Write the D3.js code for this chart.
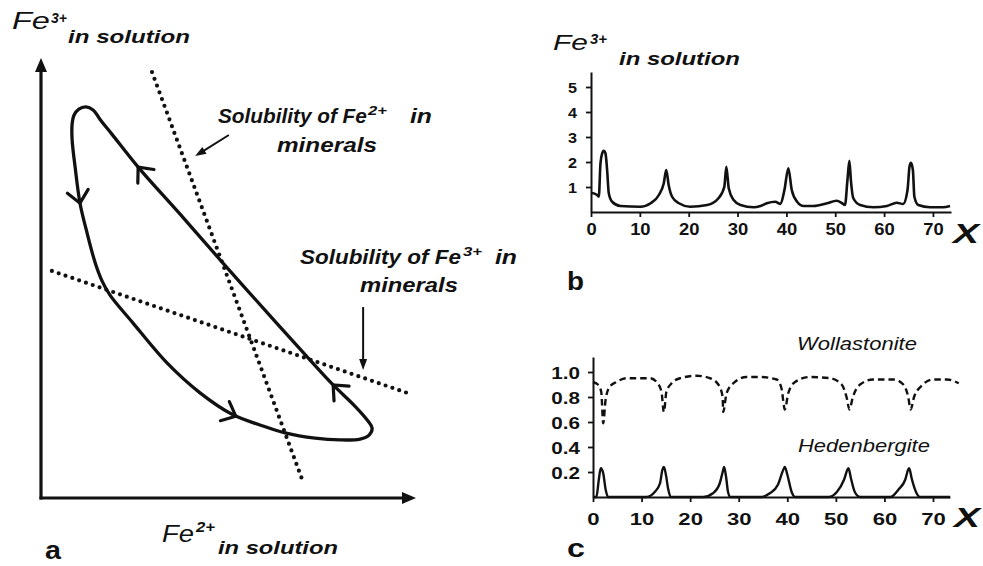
<!DOCTYPE html>
<html>
<head>
<meta charset="utf-8">
<script src="https://cdn.jsdelivr.net/npm/d3@7"></script>
<style>
  body { margin: 0; background: #fff; }
  svg { display: block; }
  text { font-family: "Liberation Sans", Arial, sans-serif; fill: #111; }
</style>
</head>
<body>
<svg id="fig" width="983" height="566"></svg>
<script>
// ---------- panel a: schematic cycle in the Fe2+ / Fe3+ plane (arbitrary units 0-100) ----------
const loopFe2 = [12.0,10.1,8.8,8.3,8.3,9.1,10.4,12.3,14.4,16.3,18.4,24.5,33.6,42.4,51.2,58.4,65.1,73.1,79.7,85.1,87.5,88.3,87.2,83.7,77.9,71.7,61.1,48.3,37.1,25.9,18.9,15.7,13.9];
const loopFe3 = [88.9,88.4,87.0,85.0,81.4,75.2,67.0,60.2,53.6,49.3,46.1,39.8,30.7,23.9,18.9,16.6,14.8,13.6,13.2,13.4,14.3,15.9,17.5,20.9,25.7,31.4,41.4,53.6,64.5,75.2,82.7,86.1,88.2];
// direction arrows sit on the loop near these points
const arrowFe2 = [10.4, 52.0, 77.9, 25.9];
const arrowFe3 = [67.0, 18.6, 25.7, 75.2];
// solubility limits (end points)
const fe2LimitFe2 = [29.6, 69.9], fe2LimitFe3 = [96.8, 3.6];
const fe3LimitFe2 = [2.9, 97.6],  fe3LimitFe3 = [51.6, 23.9];

// ---------- panel b: Fe3+ in solution along the column ----------
const distB = [0,1.26,1.6,1.94,2.3,2.62,2.96,3.3,3.64,4.33,6.0,10.1,12.2,13.9,14.9,15.4,15.9,16.6,18.0,20.3,23.8,26.1,27.3,27.7,28.2,29.2,30.6,33.3,34.7,36.0,37.7,38.8,39.6,40.4,41.1,42.2,43.5,45.6,48.3,50.3,51.4,52.0,52.5,52.9,53.2,53.7,55.1,57.8,60.6,62.6,63.9,64.8,65.2,65.5,65.9,66.2,67.0,69.4,72.1,73.5];
const fe3Conc = [0.77,0.68,0.61,1.95,2.35,2.45,2.35,1.68,0.75,0.41,0.24,0.21,0.35,0.68,1.15,1.68,1.08,0.61,0.35,0.21,0.28,0.55,1.01,1.81,0.95,0.48,0.28,0.19,0.24,0.35,0.41,0.32,0.88,1.75,0.88,0.41,0.24,0.24,0.35,0.45,0.35,0.28,1.28,2.05,1.28,0.55,0.28,0.19,0.24,0.37,0.32,0.88,1.81,1.97,1.68,0.61,0.28,0.19,0.19,0.24];
const ticksBy = [1, 2, 3, 4, 5];
const ticksX = [0, 10, 20, 30, 40, 50, 60, 70];

// ---------- panel c: mineral fractions ----------
const distW = [0,1.0,1.7,2.1,2.6,3.4,4.8,6.9,11.7,13.1,14.1,14.6,15.1,16.2,17.9,21.3,24.1,25.8,26.7,26.8,27.5,28.9,31.6,34.4,37.8,38.8,39.5,40.2,41.6,44.7,48.8,51.2,52.2,52.8,53.5,55.0,57.7,61.9,63.9,64.9,65.4,66.1,67.4,70.1,72.9,75.3];
const wollastonite = [0.92,0.90,0.84,0.59,0.78,0.88,0.92,0.95,0.95,0.92,0.84,0.68,0.84,0.91,0.95,0.97,0.95,0.90,0.80,0.68,0.83,0.91,0.96,0.96,0.94,0.87,0.70,0.83,0.92,0.96,0.95,0.90,0.80,0.70,0.80,0.90,0.94,0.94,0.90,0.80,0.70,0.80,0.88,0.94,0.94,0.91];
const distH = [0,0.7,1.2,1.6,2.1,2.6,3.1,11.0,12.7,13.8,14.3,14.6,15.0,15.5,16.0,22.7,24.7,26.1,26.7,27.0,27.4,27.8,28.3,34.5,36.4,38.1,39.2,39.5,40.0,40.9,41.6,48.5,50.2,51.7,52.4,52.6,53.1,53.9,55.0,61.2,62.9,64.3,64.9,65.1,65.6,66.5,67.3,73.5];
const hedenbergite = [0,0,0.14,0.23,0.19,0.06,0,0,0.04,0.11,0.22,0.24,0.18,0.06,0,0,0.03,0.11,0.20,0.24,0.16,0.04,0,0,0.03,0.10,0.22,0.24,0.18,0.04,0,0,0.04,0.14,0.22,0.23,0.15,0.04,0,0,0.06,0.14,0.22,0.23,0.15,0.04,0,0];
const ticksCy = [0.2, 0.4, 0.6, 0.8, 1.0];

const INK = "#111";
const svg = d3.select("#fig");

// text stretched horizontally to a given width, left edge at x, baseline at y
function fitLabel(parent, str, x, y, width, size, weight, style) {
  const g = parent.append("g");
  const t = g.append("text").text(str)
    .attr("font-size", size).attr("font-weight", weight).attr("font-style", style);
  const w = t.node().getComputedTextLength();
  g.attr("transform", `translate(${x},${y}) scale(${width / w},1)`);
  return g;
}

function arrowHead(g, tip, ang, len, halfW) {
  const bx = tip[0] - len * Math.cos(ang), by = tip[1] - len * Math.sin(ang);
  const nx = -Math.sin(ang) * halfW, ny = Math.cos(ang) * halfW;
  g.append("path")
    .attr("d", `M${tip[0]},${tip[1]}L${bx + nx},${by + ny}L${bx - nx},${by - ny}Z`)
    .attr("fill", INK);
}

// ================= panel a =================
const xA = d3.scaleLinear().domain([0, 100]).range([41, 416]);
const yA = d3.scaleLinear().domain([0, 100]).range([498, 58]);
const ga = svg.append("g");

// axes with arrow tips
ga.append("line").attr("x1", xA(0)).attr("y1", yA(0) + 1.5).attr("x2", xA(0)).attr("y2", yA(97))
  .attr("stroke", INK).attr("stroke-width", 3.2);
ga.append("line").attr("x1", xA(0) - 1.5).attr("y1", yA(0)).attr("x2", xA(97)).attr("y2", yA(0))
  .attr("stroke", INK).attr("stroke-width", 3.2);
arrowHead(ga, [xA(0), yA(100)], -Math.PI / 2, 14, 6);
arrowHead(ga, [xA(100), yA(0)], 0, 14, 6);

// solubility limits, dotted
function dotted(xs, ys) {
  ga.append("line")
    .attr("x1", xA(xs[0])).attr("y1", yA(ys[0]))
    .attr("x2", xA(xs[1])).attr("y2", yA(ys[1]))
    .attr("stroke", INK).attr("stroke-width", 4.2)
    .attr("stroke-linecap", "round").attr("stroke-dasharray", "0 7.2");
}
dotted(fe2LimitFe2, fe2LimitFe3);
dotted(fe3LimitFe2, fe3LimitFe3);

// the cycle
const loopPts = loopFe2.map((v, i) => [xA(v), yA(loopFe3[i])]);
const loopPath = ga.append("path")
  .attr("d", d3.line().curve(d3.curveCatmullRomClosed.alpha(0.5))(loopPts))
  .attr("fill", "none").attr("stroke", INK).attr("stroke-width", 3.3)
  .attr("stroke-linejoin", "round");

// chevrons showing direction of travel
const node = loopPath.node();
const total = node.getTotalLength();
const samples = d3.range(0, 800).map(i => node.getPointAtLength(total * i / 800));
arrowFe2.forEach((v, k) => {
  const px = xA(v), py = yA(arrowFe3[k]);
  let best = 0, bd = Infinity;
  samples.forEach((s, i) => { const d = (s.x - px) ** 2 + (s.y - py) ** 2; if (d < bd) { bd = d; best = i; } });
  const a = samples[(best + 796) % 800], b = samples[(best + 4) % 800];
  const ang = Math.atan2(b.y - a.y, b.x - a.x);
  const tip = [samples[best].x, samples[best].y];
  const len = 16, half = 0.72;
  const p1 = [tip[0] - len * Math.cos(ang - half), tip[1] - len * Math.sin(ang - half)];
  const p2 = [tip[0] - len * Math.cos(ang + half), tip[1] - len * Math.sin(ang + half)];
  ga.append("path").attr("d", `M${p1}L${tip}L${p2}`)
    .attr("fill", "none").attr("stroke", INK).attr("stroke-width", 3.2)
    .attr("stroke-linecap", "round").attr("stroke-linejoin", "miter");
});

// pointers to the limits
function pointer(x1, y1, x2, y2) {
  const p = [xA(x1), yA(y1)], q = [xA(x2), yA(y2)];
  const ang = Math.atan2(q[1] - p[1], q[0] - p[0]);
  ga.append("line").attr("x1", p[0]).attr("y1", p[1])
    .attr("x2", q[0] - 8 * Math.cos(ang)).attr("y2", q[1] - 8 * Math.sin(ang))
    .attr("stroke", INK).attr("stroke-width", 2);
  arrowHead(ga, q, ang, 11, 4);
}
pointer(50.1, 82.5, 41.1, 77.7);
pointer(85.9, 43.4, 85.9, 29.1);

// labels of panel a
fitLabel(ga, "Fe", 12, 29, 38, 24, "normal", "italic");
fitLabel(ga, "3+", 51, 23, 16, 15, "bold", "italic");
fitLabel(ga, "in solution", 68, 43, 122, 18, "bold", "italic");
fitLabel(ga, "Fe", 162, 542, 32, 23, "normal", "italic");
fitLabel(ga, "2+", 196, 532, 19, 15, "bold", "italic");
fitLabel(ga, "in solution", 218, 554, 120, 18, "bold", "italic");
fitLabel(ga, "a", 45, 559, 16, 26, "bold", "normal");

fitLabel(ga, "Solubility of Fe", 218, 123, 149, 21, "bold", "italic");
fitLabel(ga, "2+", 368, 115, 19, 13, "bold", "italic");
fitLabel(ga, "in", 410, 123, 22, 21, "bold", "italic");
fitLabel(ga, "minerals", 277, 152, 100, 21, "bold", "italic");

fitLabel(ga, "Solubility of Fe", 300, 264, 161, 21, "bold", "italic");
fitLabel(ga, "3+", 463, 256, 19, 13, "bold", "italic");
fitLabel(ga, "in", 495, 264, 22, 21, "bold", "italic");
fitLabel(ga, "minerals", 360, 292, 98, 21, "bold", "italic");

// ================= panel b =================
const xB = d3.scaleLinear().domain([0, 73.7]).range([591, 951]);
const yB = d3.scaleLinear().domain([0, 5.6]).range([212, 72]);
const gb = svg.append("g");

function styleAxis(g, fs) {
  g.select(".domain").attr("stroke", INK).attr("stroke-width", 2);
  g.selectAll(".tick line").attr("stroke", INK).attr("stroke-width", 1.8);
  g.selectAll(".tick text").attr("font-size", fs).attr("font-weight", "bold")
    .attr("font-family", null).attr("fill", INK);
}

const axBx = gb.append("g").attr("transform", `translate(0,${yB(0)})`)
  .call(d3.axisBottom(xB).tickValues(ticksX).tickSize(5).tickSizeOuter(0));
styleAxis(axBx, 16);
axBx.selectAll(".tick text").attr("y", 0).attr("dy", null)
  .attr("transform", "translate(0,23) scale(1.15,1)");

const axBy = gb.append("g").attr("transform", `translate(${xB(0)},0)`)
  .call(d3.axisLeft(yB).tickValues(ticksBy).tickSize(5).tickSizeOuter(0).tickFormat(d3.format("d")));
styleAxis(axBy, 15);
axBy.selectAll(".tick text").attr("x", 0).attr("dy", null).attr("y", 0)
  .attr("transform", "translate(-14,5.5) scale(1.08,1)");

gb.append("path")
  .datum(distB.map((d, i) => [d, fe3Conc[i]]))
  .attr("d", d3.line().x(d => xB(d[0])).y(d => yB(d[1])).curve(d3.curveMonotoneX))
  .attr("fill", "none").attr("stroke", INK).attr("stroke-width", 2.6)
  .attr("stroke-linejoin", "round");

fitLabel(gb, "Fe", 553, 50, 35, 22, "normal", "italic");
fitLabel(gb, "3+", 590, 44, 17, 14, "bold", "italic");
fitLabel(gb, "in solution", 619, 65, 121, 18, "bold", "italic");
fitLabel(gb, "X", 953, 243, 26, 28, "bold", "italic");
fitLabel(gb, "b", 567, 290, 17, 26, "bold", "normal");

// ================= panel c =================
const xC = d3.scaleLinear().domain([0, 73.5]).range([593, 950]);
const yC = d3.scaleLinear().domain([0, 1.12]).range([497, 357]);
const gc = svg.append("g");

const axCx = gc.append("g").attr("transform", `translate(0,${yC(0)})`)
  .call(d3.axisBottom(xC).tickValues(ticksX).tickSize(5).tickSizeOuter(0));
styleAxis(axCx, 17);
axCx.selectAll(".tick text").attr("y", 0).attr("dy", null)
  .attr("transform", "translate(0,28) scale(1.3,1)");

const axCy = gc.append("g").attr("transform", `translate(${xC(0)},0)`)
  .call(d3.axisLeft(yC).tickValues(ticksCy).tickSize(5).tickSizeOuter(0).tickFormat(d3.format(".1f")));
styleAxis(axCy, 16.5);
axCy.selectAll(".tick text").attr("x", 0).attr("dy", null).attr("y", 0)
  .attr("transform", "translate(-13,6) scale(1.25,1)");

gc.append("path")
  .datum(distW.map((d, i) => [d, wollastonite[i]]))
  .attr("d", d3.line().x(d => xC(d[0])).y(d => yC(d[1])).curve(d3.curveMonotoneX))
  .attr("fill", "none").attr("stroke", INK).attr("stroke-width", 2.4)
  .attr("stroke-dasharray", "6.5 4");

gc.append("path")
  .datum(distH.map((d, i) => [d, hedenbergite[i]]))
  .attr("d", d3.line().x(d => xC(d[0])).y(d => yC(d[1])).curve(d3.curveMonotoneX))
  .attr("fill", "none").attr("stroke", INK).attr("stroke-width", 2.4)
  .attr("stroke-linejoin", "round");

fitLabel(gc, "Wollastonite", 797, 350, 120, 18, "normal", "italic");
fitLabel(gc, "Hedenbergite", 798, 452, 132, 18, "normal", "italic");
fitLabel(gc, "X", 954, 527, 26, 28, "bold", "italic");
fitLabel(gc, "c", 567, 557, 18, 26, "bold", "normal");
</script>
</body>
</html>
